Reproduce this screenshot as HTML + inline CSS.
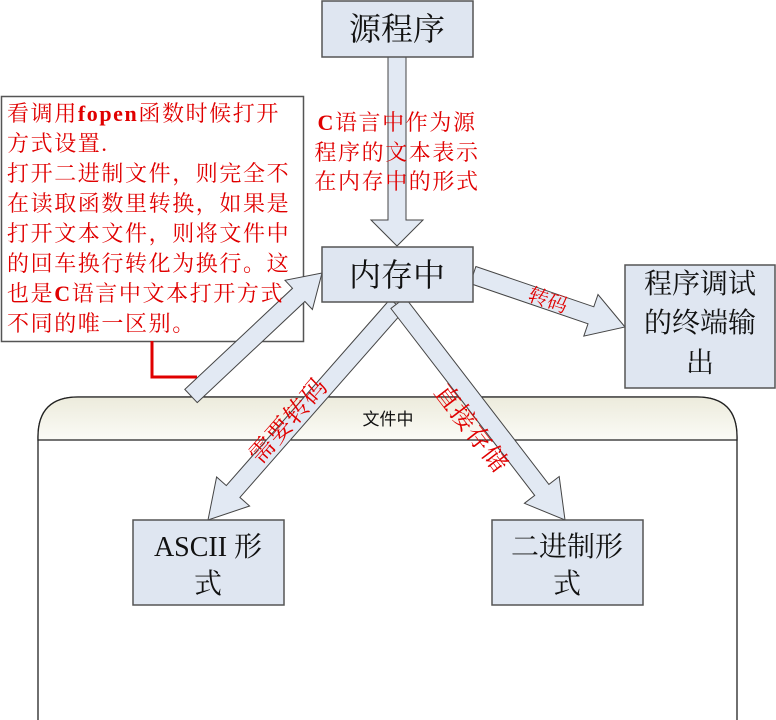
<!DOCTYPE html>
<html><head><meta charset="utf-8"><style>
html,body{margin:0;padding:0;background:#fff;}
svg{display:block;}
.n{font-family:"Liberation Serif","Noto Serif CJK SC",serif;fill:#111;}
.r{font-family:"Liberation Serif","Noto Serif CJK SC",serif;fill:#e00000;}
</style></head><body>
<svg width="776" height="720" viewBox="0 0 776 720" xmlns="http://www.w3.org/2000/svg">
<defs>
<linearGradient id="hg" x1="0" y1="0" x2="0" y2="1">
<stop offset="0" stop-color="#ecebdc"/><stop offset="1" stop-color="#fbfbf6"/>
</linearGradient>
</defs>
<path d="M38,720 L38,440 L38,437 Q38,397 78,397 L697,397 Q737,397 737,437 L737,720" fill="#fff" stroke="#222" stroke-width="1.3"/>
<path d="M38,440 L38,437 Q38,397 78,397 L697,397 Q737,397 737,437 L737,440 Z" fill="url(#hg)" stroke="#222" stroke-width="1.3"/>
<text x="388" y="425" font-family="'Liberation Sans','Noto Sans CJK SC',sans-serif" font-size="17" text-anchor="middle" fill="#111">文件中</text>

<rect x="1.5" y="96.5" width="302" height="245" fill="#fff" stroke="#555" stroke-width="1.5"/>
<polyline points="152,341 152,377 197,377" fill="none" stroke="#e00000" stroke-width="3"/>

<g fill="#e2e9f3" stroke="#444" stroke-width="1">
<polygon points="388,57 406,57 406,220 423,220 397,246 371,220 388,220"/>
<polygon points="197.2,402.6 304.9,301.5 312.4,309.5 322,273 285.0,280.3 292.5,288.3 184.8,389.4"/>
<polygon points="403.8,310.9 239.9,497.4 249.6,506.0 208,520 216.6,477.0 226.3,485.6 390.2,299.1"/>
<polygon points="390.9,308.5 534.7,495.4 524.4,503.3 565,520 559.2,476.5 548.9,484.4 405.1,297.5"/>
<polygon points="470.1,283.5 588.0,323.8 583.8,336.1 625,327 598.0,294.5 593.8,306.8 475.9,266.5"/>
</g>

<g fill="#dfe6f1" stroke="#555" stroke-width="1.5">
<rect x="322" y="1" width="151" height="56"/>
<rect x="322" y="247" width="151" height="55"/>
<rect x="625" y="265" width="150" height="123"/>
<rect x="133" y="520" width="151" height="85"/>
<rect x="492" y="520" width="151" height="85"/>
</g>
<text class="n" x="397" y="40" font-size="32" text-anchor="middle">源程序</text>
<text class="n" x="397" y="286" font-size="32" text-anchor="middle">内存中</text>
<g class="n" font-size="28" text-anchor="middle">
<text x="700" y="293">程序调试</text>
<text x="700" y="332">的终端输</text>
<text x="700" y="372">出</text>
<text x="208" y="556">ASCII 形</text>
<text x="208" y="593">式</text>
<text x="567" y="556">二进制形</text>
<text x="567" y="593">式</text>
</g>

<g class="r" font-size="22" letter-spacing="1.6">
<text x="7" y="121">看调用<tspan font-weight="bold">fopen</tspan>函数时候打开</text>
<text x="7" y="151">方式设置.</text>
<text x="7" y="181">打开二进制文件，则完全不</text>
<text x="7" y="211">在读取函数里转换，如果是</text>
<text x="7" y="241">打开文本文件，则将文件中</text>
<text x="7" y="271">的回车换行转化为换行。这</text>
<text x="7" y="301">也是<tspan font-weight="bold">C</tspan>语言中文本打开方式</text>
<text x="7" y="331">不同的唯一区别。</text>
</g>
<g class="r" font-size="22" letter-spacing="1.6" text-anchor="middle">
<text x="397" y="130"><tspan font-weight="bold">C</tspan>语言中作为源</text>
<text x="397" y="160">程序的文本表示</text>
<text x="397" y="189">在内存中的形式</text>
</g>
<text class="r" font-size="20" text-anchor="middle" y="7" transform="translate(548,300) rotate(19)">转码</text>
<text class="r" font-size="25" text-anchor="middle" y="9" letter-spacing="1" transform="translate(288,420) rotate(-48.7)">需要转码</text>
<text class="r" font-size="25" text-anchor="middle" y="9" letter-spacing="1" transform="translate(472,428) rotate(52.4)">直接存储</text>
</svg>
</body></html>
